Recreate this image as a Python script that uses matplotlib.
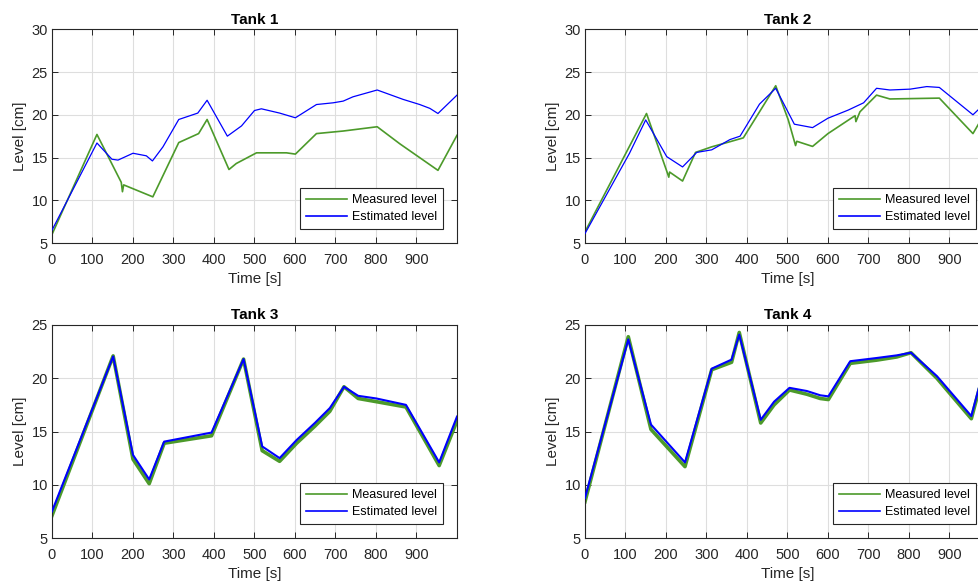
import matplotlib
matplotlib.use("Agg")
import matplotlib.pyplot as plt

# ====== DATA ======
# Tank 1
t1_meas = [0, 111, 171, 174, 177, 249, 313, 362, 383, 437, 455, 505, 579, 601, 653, 719, 803, 859, 953, 1000]
y1_meas = [6.0, 17.7, 12.1, 11.0, 11.8, 10.4, 16.75, 17.8, 19.45, 13.6, 14.3, 15.55, 15.55, 15.4, 17.8, 18.1, 18.6, 16.6, 13.5, 17.6]
t1_est = [0, 111, 148, 163, 200, 233, 248, 274, 313, 360, 383, 433, 468, 500, 517, 562, 601, 653, 694, 719, 743, 803, 867, 908, 933, 953, 1000]
y1_est = [6.5, 16.7, 14.8, 14.7, 15.5, 15.2, 14.6, 16.25, 19.45, 20.2, 21.7, 17.5, 18.7, 20.5, 20.7, 20.2, 19.65, 21.2, 21.4, 21.6, 22.1, 22.9, 21.8, 21.2, 20.75, 20.15, 22.3]

# Tank 2
t2_meas = [0, 152, 202, 207, 209, 241, 273, 313, 358, 391, 471, 502, 520, 523, 562, 600, 667, 669, 679, 720, 753, 875, 958, 1000]
y2_meas = [6.3, 20.15, 13.4, 12.7, 13.3, 12.25, 15.6, 16.25, 16.85, 17.3, 23.4, 19.4, 16.4, 16.9, 16.3, 17.8, 19.9, 19.2, 20.35, 22.3, 21.85, 21.95, 17.8, 21.2]
t2_est = [0, 110, 150, 202, 241, 276, 313, 358, 383, 431, 471, 517, 562, 600, 650, 688, 720, 753, 803, 844, 875, 958, 1000]
y2_est = [6.1, 15.5, 19.4, 15.1, 13.9, 15.6, 15.9, 17.1, 17.5, 21.25, 23.1, 18.9, 18.5, 19.6, 20.55, 21.4, 23.1, 22.9, 23.0, 23.3, 23.2, 20.0, 21.9]

# Tank 3
t3 = [0, 151, 200, 240, 277, 394, 473, 519, 562, 604, 649, 686, 721, 756, 801, 874, 956, 1000]
y3_meas = [7.1, 22.1, 12.4, 10.1, 13.9, 14.6, 21.8, 13.2, 12.2, 13.9, 15.5, 16.9, 19.2, 18.1, 17.8, 17.3, 11.8, 16.0]
y3_est = [7.5, 22.05, 12.8, 10.5, 14.05, 14.9, 21.8, 13.6, 12.5, 14.2, 15.8, 17.2, 19.2, 18.35, 18.1, 17.5, 12.1, 16.4]

# Tank 4
t4 = [0, 107, 163, 247, 313, 362, 381, 434, 467, 505, 548, 581, 601, 655, 720, 770, 805, 869, 954, 1000]
y4_meas = [8.4, 23.9, 15.2, 11.7, 20.8, 21.5, 24.3, 15.8, 17.5, 18.9, 18.5, 18.1, 18.0, 21.4, 21.7, 22.0, 22.4, 20.0, 16.2, 22.8]
y4_est = [8.75, 23.65, 15.65, 12.1, 20.9, 21.75, 24.1, 16.1, 17.8, 19.1, 18.8, 18.4, 18.3, 21.6, 21.9, 22.15, 22.4, 20.2, 16.45, 23.0]

titles = ["Tank 1", "Tank 2", "Tank 3", "Tank 4"]
ylims = [(5, 30), (5, 30), (5, 25), (5, 25)]

GREEN = "#4c9a2a"
BLUE = "#0000ff"
DARK = "#262626"

plt.rcParams["font.family"] = ["Liberation Sans", "DejaVu Sans"]

fig = plt.figure(figsize=(9.79, 5.86), dpi=100)

# axes boxes in figure fractions (right column runs past the page edge)
boxes = [
    [0.0531, 0.5853, 0.4137, 0.3647],
    [0.5975, 0.5853, 0.4137, 0.3647],
    [0.0531, 0.0819, 0.4137, 0.3635],
    [0.5975, 0.0819, 0.4137, 0.3635],
]

series = [
    (t1_meas, y1_meas, t1_est, y1_est),
    (t2_meas, y2_meas, t2_est, y2_est),
    (t3, y3_meas, t3, y3_est),
    (t4, y4_meas, t4, y4_est),
]

for i, (box, (tm, ym, te, ye)) in enumerate(zip(boxes, series)):
    ax = fig.add_axes(box)
    if i < 2:
        lw_m, lw_e = 1.2, 0.9
    else:
        lw_m, lw_e = 2.6, 1.5
    ax.plot(tm, ym, color=GREEN, lw=lw_m, label="Measured level", zorder=2)
    ax.plot(te, ye, color=BLUE, lw=lw_e, label="Estimated level", zorder=3)

    ax.set_xlim(0, 1000)
    ax.set_ylim(*ylims[i])
    ax.set_xticks(range(0, 1000, 100))
    ax.set_yticks(range(ylims[i][0], ylims[i][1] + 1, 5))
    ax.grid(True, color="#dedede", lw=0.8)
    ax.set_axisbelow(True)
    ax.tick_params(direction="in", top=True, right=True, length=4, width=0.7,
                   labelsize=10.5, colors=DARK, pad=3)
    ax.tick_params(axis="x", pad=7)
    for sp in ax.spines.values():
        sp.set_color(DARK)
        sp.set_linewidth(0.8)

    ax.set_title(titles[i], fontsize=11, fontweight="bold", pad=4)
    ax.set_xlabel("Time [s]", fontsize=11, color=DARK, labelpad=4)
    ax.set_ylabel("Level [cm]", fontsize=11, color=DARK, labelpad=3)

    leg = ax.legend(loc="lower right", fontsize=9, fancybox=False, framealpha=1,
                    edgecolor=DARK, handlelength=3.3, borderaxespad=1.1,
                    borderpad=0.5, labelspacing=0.38, handletextpad=0.35)
    leg.get_frame().set_linewidth(0.8)
    for h in leg.get_lines():
        h.set_linewidth(1.2)

fig.savefig("out.png", dpi=100)
